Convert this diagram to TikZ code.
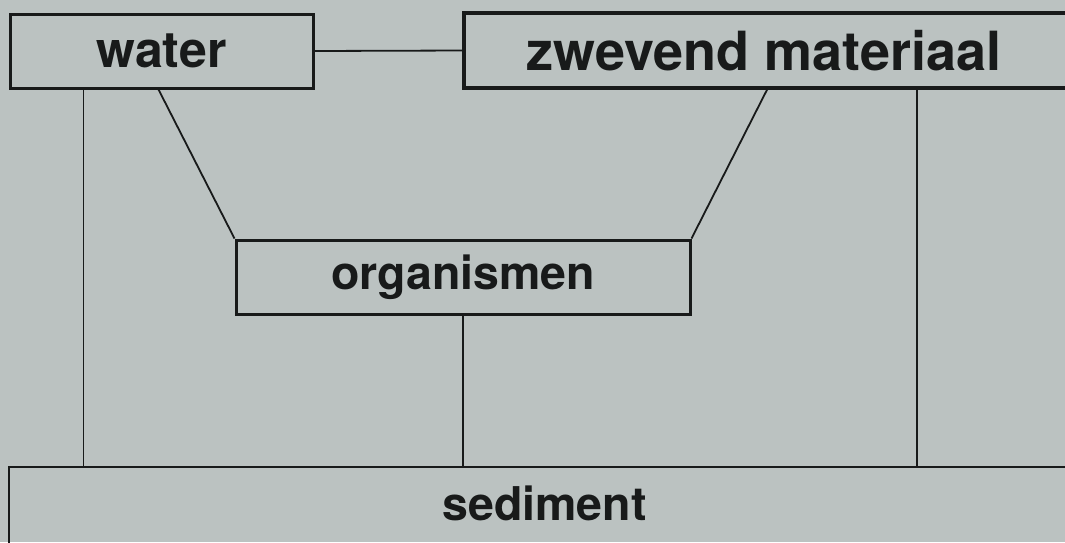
\documentclass[tikz,border=0pt]{standalone}
\usepackage{fontspec}
\setmainfont{TeX Gyre Heros}
\definecolor{bg}{RGB}{187,194,193}
\definecolor{ink}{RGB}{24,26,26}
\begin{document}
\begin{tikzpicture}[x=1pt,y=-1pt,
  box/.style={draw=ink,line width=3pt,inner sep=0pt,text=ink,font=\bfseries},
  link/.style={draw=ink,line width=1.8pt}]
\useasboundingbox (0,0) rectangle (1065,542);
\fill[bg] (0,0) rectangle (1065,542);
\clip (0,0) rectangle (1065,542);
% nodes
\node[box,minimum width=303pt,minimum height=74pt,font=\bfseries\fontsize{50}{54}\selectfont] (water) at (161.5,51) {water};
\node[inner sep=0pt,text=ink,minimum width=600pt,minimum height=75pt,font=\bfseries\fontsize{54}{58}\selectfont] (zm) at (764,50.5) {zwevend materiaal};
\draw[draw=ink,line width=4.5pt] ([xshift=20pt]zm.north east) -- (zm.north west) -- (zm.south west) -- ([xshift=20pt]zm.south east);
\node[box,minimum width=454pt,minimum height=74pt,font=\bfseries\fontsize{46.5}{50}\selectfont] (org) at (463,277) {organismen};
\node[inner sep=0pt,text=ink,minimum width=1071pt,minimum height=72pt,font=\bfseries\fontsize{46.5}{50}\selectfont] (sed) at (544.5,503) {sediment};
\draw[draw=ink,line width=2.6pt] ([yshift=-20pt]sed.south west) -- (sed.north west) -- ([xshift=20pt]sed.north east);
% connectors
\draw[link] (water.east) -- (zm.west);
\draw[link] ([xshift=75pt]water.south west) -- ([xshift=75pt]water.south west |- sed.north);
\draw[link] ([xshift=150pt]water.south west) -- (org.north west);
\draw[link] ([xshift=304pt]zm.south west) -- (org.north east);
\draw[link] ([xshift=453pt]zm.south west) -- ([xshift=453pt]zm.south west |- sed.north);
\draw[link] (org.south) -- (org.south |- sed.north);
\end{tikzpicture}
\end{document}
